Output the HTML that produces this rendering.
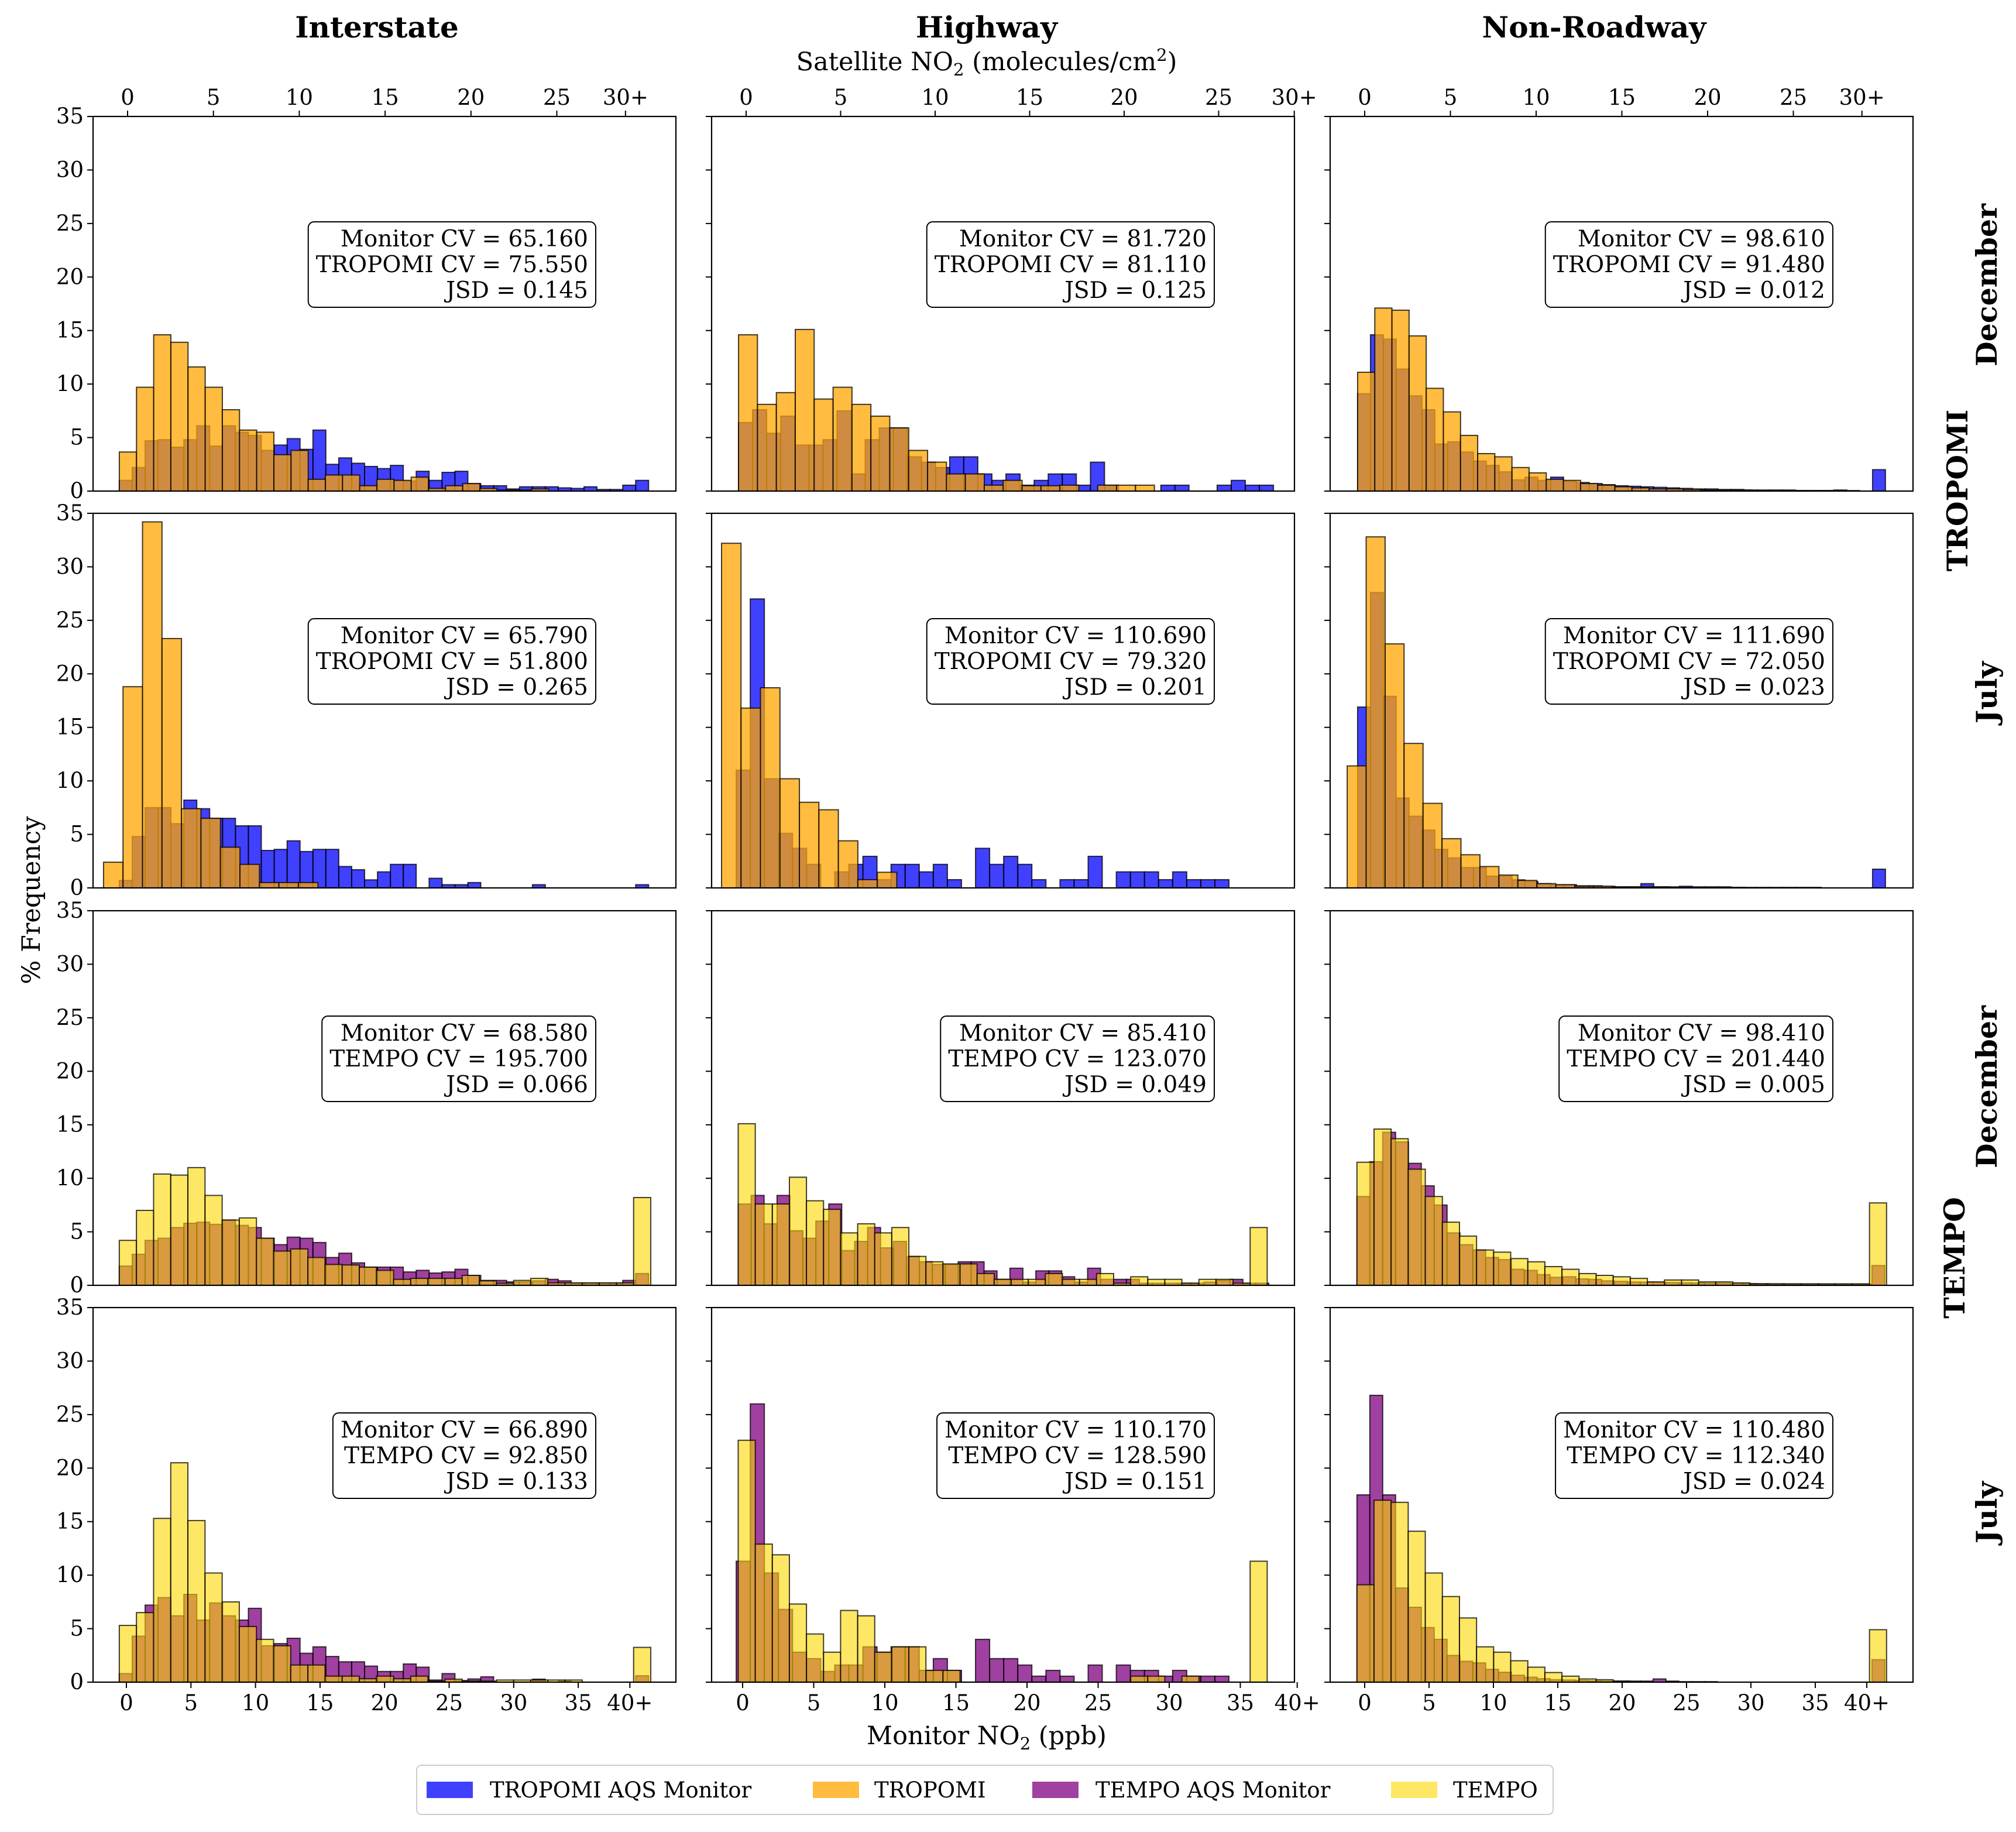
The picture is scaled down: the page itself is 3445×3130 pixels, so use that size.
<!DOCTYPE html>
<html><head><meta charset="utf-8"><style>
html,body{margin:0;padding:0;background:#fff;}
svg{display:block;font-family:"DejaVu Serif","Liberation Serif",serif;}
</style></head><body>
<svg id="fig" width="3445" height="3130" viewBox="0 0 3445 3130" xmlns="http://www.w3.org/2000/svg">
<rect x="0" y="0" width="3445" height="3130" fill="#fff"/>
<g id="panels"></g>
<text x="644" y="64" font-size="50" font-weight="bold" text-anchor="middle">Interstate</text>
<text x="1686" y="64" font-size="50" font-weight="bold" text-anchor="middle">Highway</text>
<text x="2724" y="64" font-size="50" font-weight="bold" text-anchor="middle">Non-Roadway</text>
<text x="1686" y="120" font-size="43" text-anchor="middle">Satellite NO<tspan font-size="29" dy="9">2</tspan><tspan dy="-9"> (molecules/cm</tspan><tspan font-size="29" dy="-16">2</tspan><tspan dy="16">)</tspan></text>
<text x="1686" y="2980" font-size="43" text-anchor="middle">Monitor NO<tspan font-size="29" dy="9">2</tspan><tspan dy="-9"> (ppb)</tspan></text>
<text x="0" y="0" font-size="43" text-anchor="middle" transform="translate(68,1538) rotate(-90)">% Frequency</text>
<text font-size="49" font-weight="bold" text-anchor="middle" transform="translate(3412,487) rotate(-90)">December</text>
<text font-size="49" font-weight="bold" text-anchor="middle" transform="translate(3362,838) rotate(-90)">TROPOMI</text>
<text font-size="49" font-weight="bold" text-anchor="middle" transform="translate(3412,1183) rotate(-90)">July</text>
<text font-size="49" font-weight="bold" text-anchor="middle" transform="translate(3412,1857) rotate(-90)">December</text>
<text font-size="49" font-weight="bold" text-anchor="middle" transform="translate(3357,2149) rotate(-90)">TEMPO</text>
<text font-size="49" font-weight="bold" text-anchor="middle" transform="translate(3412,2584) rotate(-90)">July</text>
<g>
<rect x="712" y="3016" width="1942" height="84" rx="8" fill="#fff" stroke="#ccc" stroke-width="2"/>
<g><rect x="729" y="3044" width="79" height="28" fill="#0000ff" fill-opacity="0.75"/><text x="837" y="3071" font-size="37">TROPOMI AQS Monitor</text></g>
<g><rect x="1389" y="3044" width="79" height="28" fill="#ffa500" fill-opacity="0.75"/><text x="1494" y="3071" font-size="37">TROPOMI</text></g>
<g><rect x="1764" y="3044" width="79" height="28" fill="#800080" fill-opacity="0.75"/><text x="1872" y="3071" font-size="37">TEMPO AQS Monitor</text></g>
<g><rect x="2377" y="3044" width="79" height="28" fill="#ffd700" fill-opacity="0.6"/><text x="2483" y="3071" font-size="37">TEMPO</text></g>
</g>
</svg>
<script>
// ---- data (percent frequency per bin) ----
const r1c1Mon=[1.0,2.2,4.7,4.8,4.1,4.8,6.1,4.2,6.1,5.5,5.2,3.8,4.3,4.9,3.9,5.7,2.5,3.1,2.6,2.3,2.1,2.4,0.95,1.85,1.0,1.75,1.85,0.7,0.5,0.5,0.2,0.4,0.4,0.4,0.3,0.25,0.4,0.15,0.15,0.55,1.0];
const r1c1Sat=[3.65,9.7,14.6,13.9,11.6,9.7,7.6,5.7,5.5,3.4,3.8,1.1,1.5,1.5,0.5,1.1,1.0,1.3,0.25,0.5,0.7,0.25,0.1,0.1,0.2];
const r2c1Mon=[0.7,4.8,7.5,7.5,6.0,8.2,7.4,6.5,6.5,5.8,5.8,3.5,3.6,4.4,3.4,3.6,3.6,2.0,1.7,0.75,1.5,2.2,2.2,0,0.9,0.3,0.3,0.5,0,0,0,0,0.3,0,0,0,0,0,0,0,0.3];
const r2c1Sat=[2.4,18.8,34.2,23.3,7.4,6.5,3.8,2.2,0.5,0.5,0.5];
const r1c2Mon=[6.4,7.6,5.4,7.0,4.3,4.3,4.8,7.5,1.6,4.8,5.9,5.9,3.2,2.7,2.2,3.2,3.2,1.6,1.0,1.6,0.55,1.0,1.6,1.6,0.55,2.7,0.55,0,0,0,0.55,0.55,0,0,0.55,1.0,0.55,0.55];
const r1c2Sat=[14.6,8.1,9.2,15.1,8.6,9.7,8.1,7.0,5.9,3.8,2.7,1.6,1.6,0.55,1.0,0.5,0.5,0.55,0,0.55,0.55,0.55];
const r2c2Mon=[11.0,27.0,10.2,5.1,3.7,2.2,0,1.5,2.2,2.95,0.77,2.2,2.2,1.5,2.2,0.77,0,3.7,2.2,2.95,2.2,0.77,0,0.77,0.77,2.95,0,1.5,1.5,1.5,0.77,1.5,0.77,0.77,0.77];
const r2c2Sat=[32.2,16.8,18.7,10.2,8.0,7.3,4.4,0.77,1.46];
const r1c3Mon=[9.1,14.6,14.2,11.4,8.9,7.6,4.4,4.6,3.65,2.8,2.4,1.8,1.05,1.3,1.0,1.3,0.9,0.8,0.7,0.6,0.5,0.45,0.4,0.35,0.3,0.25,0.2,0.2,0.15,0.15,0.1,0.1,0.1,0.1,0.05,0.05,0.05,0.1,0.05,0,2.0];
const r1c3Sat=[11.1,17.1,16.9,14.5,9.6,7.4,5.2,3.5,3.2,2.2,1.7,1.1,1.0,0.7,0.55,0.4,0.3,0.2,0.2,0.15,0.1,0.1,0.1,0.05,0.05,0.05,0.05,0.05];
const r2c3Mon=[16.9,27.6,17.9,8.4,6.7,5.4,3.6,2.8,1.9,1.9,1.1,1.1,0.75,0.6,0.4,0.3,0.3,0.2,0.2,0.15,0.1,0.1,0.4,0.1,0.1,0.15,0.1,0.1,0.1,0.05,0.05,0.05,0.05,0.05,0.05,0.05,0,0,0,0,1.75];
const r2c3Sat=[11.4,32.8,22.8,13.5,7.9,4.6,3.1,2.0,1.2,0.7,0.4,0.3,0.15,0.15,0.1,0.1,0.1,0.05,0.05,0.05,0.05];
const r3c1Mon=[1.8,2.9,4.2,4.4,5.4,5.8,5.9,5.7,6.1,5.6,5.4,4.4,3.8,4.5,4.4,4.0,2.6,3.0,2.1,1.7,1.7,1.7,1.25,1.4,1.15,1.25,1.5,0.93,0.46,0.46,0.32,0.32,0.42,0.56,0.42,0.2,0.2,0.2,0.2,0.46,1.1];
const r3c1Sat=[4.2,7.0,10.4,10.3,11.0,8.4,6.1,6.3,4.4,3.2,3.4,2.6,1.95,1.9,1.7,1.4,0.56,0.65,0.65,0.65,0.93,0.42,0.19,0.46,0.65,0.23,0.23,0.23,0.23,0.23,8.2];
const r4c1Mon=[0.8,4.3,7.2,7.9,6.2,8.2,5.8,7.4,6.2,5.8,6.9,3.4,3.6,4.1,2.7,3.3,2.4,1.9,1.9,1.5,1.0,1.0,1.7,1.4,0.2,0.8,0.15,0.3,0.5,0,0,0,0.28,0,0.1,0,0,0,0,0,0.6];
const r4c1Sat=[5.3,6.5,15.3,20.5,15.1,10.2,7.5,5.2,4.0,3.4,1.6,1.6,0.56,0.56,0.32,0.56,0.32,0.56,0.1,0.28,0.1,0.1,0.2,0.2,0.2,0.2,0.2,0,0,0,3.25];
const r3c2Mon=[7.6,8.4,5.75,8.4,5.1,4.4,6.0,7.6,3.25,4.1,5.4,3.5,4.1,2.7,2.2,1.95,1.95,2.2,2.2,1.35,0.56,1.6,0.3,1.35,1.35,0.8,0.3,1.6,0.56,0.56,0.56,0.2,0.2,0.2,0.2,0.2,0.3,0.46,0.56,0.2,0.2];
const r3c2Sat=[15.1,7.6,7.6,10.1,7.9,7.1,4.9,5.75,4.9,5.4,2.7,2.2,2.0,2.0,1.1,0.56,0.56,0.56,1.1,0.56,0.56,1.1,0.2,0.8,0.56,0.56,0.2,0.56,0.56,0.2,5.4];
const r4c2Mon=[11.3,26.0,10.2,6.8,2.8,2.2,1.0,1.6,1.6,3.3,2.8,3.3,3.3,1.1,2.2,1.1,0,4.0,2.2,2.2,1.6,0.56,1.1,0.56,0,1.6,0,1.6,1.1,1.1,0.56,1.1,0.56,0.56,0.56];
const r4c2Sat=[22.6,12.9,11.9,7.3,4.5,2.8,6.7,6.2,2.8,3.3,3.3,1.1,1.1,0,0,0,0,0,0,0,0,0,0,0.56,0.56,0,0.56,0,0,0,11.3];
const r3c3Mon=[8.3,11.55,14.3,13.4,11.4,9.3,7.5,4.9,3.8,3.3,2.6,2.4,1.5,1.4,1.0,0.75,0.8,0.6,0.56,0.42,0.37,0.32,0.3,0.28,0.26,0.24,0.22,0.2,0.2,0.18,0.16,0.15,0.14,0.13,0.12,0.12,0.11,0.1,0.1,0.1,1.85];
const r3c3Sat=[11.5,14.6,13.7,10.85,8.3,5.9,4.6,3.3,3.1,2.5,2.2,1.75,1.5,1.1,0.93,0.8,0.65,0.32,0.5,0.5,0.32,0.32,0.23,0.14,0.14,0.14,0.14,0.14,0.14,0.14,7.7];
const r4c3Mon=[17.5,26.8,17.5,8.8,7.0,5.1,4.0,2.5,1.95,1.8,1.2,0.93,0.65,0.46,0.32,0.23,0.2,0.15,0.12,0.1,0.1,0.1,0.1,0.3,0.1,0.05,0.05,0.05,0,0,0,0,0,0,0,0,0,0,0,0,2.1];
const r4c3Sat=[9.1,17.0,16.8,14.1,10.2,8.0,6.0,3.3,2.8,2.0,1.4,0.9,0.56,0.3,0.23,0.1,0,0,0,0,0,0,0,0,0,0,0,0,0,0,4.9];
// bin start and width (data units) for each panel: [monLo, monW, satLo, satW]
const binSpecs=[[-0.55,1.0,-0.48,1.0],[-0.29,0.99,-0.4,1.0],[-0.55,1.0,-0.41,1.0],
[-0.55,1.0,-1.4,1.135],[-0.45,0.99,-1.3,1.03],[-0.55,1.0,-1.02,1.106],
[-0.55,1.0,-0.55,1.328],[-0.31,0.91,-0.31,1.2],[-0.6,1.0,-0.6,1.327],
[-0.55,1.0,-0.55,1.328],[-0.45,0.99,-0.31,1.2],[-0.6,1.0,-0.6,1.327]];
const stats=[["Monitor CV = 65.160","TROPOMI CV = 75.550","JSD = 0.145"],["Monitor CV = 81.720","TROPOMI CV = 81.110","JSD = 0.125"],["Monitor CV = 98.610","TROPOMI CV = 91.480","JSD = 0.012"],
["Monitor CV = 65.790","TROPOMI CV = 51.800","JSD = 0.265"],["Monitor CV = 110.690","TROPOMI CV = 79.320","JSD = 0.201"],["Monitor CV = 111.690","TROPOMI CV = 72.050","JSD = 0.023"],
["Monitor CV = 68.580","TEMPO CV = 195.700","JSD = 0.066"],["Monitor CV = 85.410","TEMPO CV = 123.070","JSD = 0.049"],["Monitor CV = 98.410","TEMPO CV = 201.440","JSD = 0.005"],
["Monitor CV = 66.890","TEMPO CV = 92.850","JSD = 0.133"],["Monitor CV = 110.170","TEMPO CV = 128.590","JSD = 0.151"],["Monitor CV = 110.480","TEMPO CV = 112.340","JSD = 0.024"]];
const yTicks=[0,5,10,15,20,25,30,35];
const topTickVals=[0,5,10,15,20,25,29];
const topTickLabels=["0","5","10","15","20","25","30+"];
const botTickVals=[0,5,10,15,20,25,30,35,39];
const botTickLabels=["0","5","10","15","20","25","30","35","40+"];
const monSeries=[r1c1Mon,r1c2Mon,r1c3Mon,r2c1Mon,r2c2Mon,r2c3Mon,r3c1Mon,r3c2Mon,r3c3Mon,r4c1Mon,r4c2Mon,r4c3Mon];
const satSeries=[r1c1Sat,r1c2Sat,r1c3Sat,r2c1Sat,r2c2Sat,r2c3Sat,r3c1Sat,r3c2Sat,r3c3Sat,r4c1Sat,r4c2Sat,r4c3Sat];

// ---- layout ----
const NS="http://www.w3.org/2000/svg";
const colL=[159,1216,2273], colW=996;
const rowT=[199,877,1556,2234], rowH=640;
const monAx=[[216,22.06],[1269,24.3],[2332,22.0]];
const satAx=[[218,29.34],[1275,32.3],[2332,29.3]];
const yMax=35;
function yPx(r,v){return rowT[r]+rowH-v/yMax*rowH;}
function monX(c,v){return monAx[c][0]+v*monAx[c][1];}
function satX(c,v){return satAx[c][0]+v*satAx[c][1];}
function mk(tag,attrs,parent){const e=document.createElementNS(NS,tag);for(const k in attrs)e.setAttribute(k,attrs[k]);parent.appendChild(e);return e;}
const root=document.getElementById('panels');
const colNames=["interstate","highway","non-roadway"];
const rowNames=["tropomi-december","tropomi-july","tempo-december","tempo-july"];

for(let r=0;r<4;r++)for(let c=0;c<3;c++){
  const p=r*3+c, tempo=r>=2;
  const g=mk('g',{},root);
  
  
  const spec=binSpecs[p];
  const monColor=tempo?'#800080':'#0000ff', satColor=tempo?'#ffd700':'#ffa500';
  const satOp=tempo?0.6:0.75;
  const base=yPx(r,0);
  monSeries[p].forEach((h,i)=>{
    if(h<=0)return;
    const x0=monX(c,spec[0]+i*spec[1]), x1=monX(c,spec[0]+(i+1)*spec[1]);
    const b=mk('rect',{x:x0,y:yPx(r,h),width:x1-x0,height:base-yPx(r,h),fill:monColor,'fill-opacity':0.75,stroke:'#000','stroke-opacity':0.75,'stroke-width':2},g);
    
    
  });
  satSeries[p].forEach((h,i)=>{
    if(h<=0)return;
    const fx=tempo?monX:satX;
    const x0=fx(c,spec[2]+i*spec[3]), x1=fx(c,spec[2]+(i+1)*spec[3]);
    const b=mk('rect',{x:x0,y:yPx(r,h),width:x1-x0,height:base-yPx(r,h),fill:satColor,'fill-opacity':satOp,stroke:'#000','stroke-opacity':0.75,'stroke-width':2},g);
    
    
  });
  const fr=mk('rect',{x:colL[c],y:rowT[r],width:colW,height:rowH,fill:'none',stroke:'#000','stroke-width':2.2},g);
  
  
  yTicks.forEach(v=>{
    const y=yPx(r,v);
    mk('line',{x1:colL[c]-10,x2:colL[c],y1:y,y2:y,stroke:'#000','stroke-width':2},g);
    if(c===0){
      const t=mk('text',{x:colL[c]-16,y:y+12,'font-size':37,'text-anchor':'end'},g);
      t.textContent=String(v);
      
      
    }
  });
  if(r===0){
    topTickVals.forEach((v,i)=>{
      const x=satX(c,v);
      mk('line',{x1:x,x2:x,y1:rowT[0]-10,y2:rowT[0],stroke:'#000','stroke-width':2},g);
      const t=mk('text',{x:x,y:rowT[0]-20,'font-size':37,'text-anchor':'middle'},g);
      t.textContent=topTickLabels[i];
      
      
    });
  }
  if(r===3){
    botTickVals.forEach((v,i)=>{
      const x=monX(c,v);
      mk('line',{x1:x,x2:x,y1:base,y2:base+10,stroke:'#000','stroke-width':2},g);
      const t=mk('text',{x:x,y:base+48,'font-size':37,'text-anchor':'middle'},g);
      t.textContent=botTickLabels[i];
      
      
    });
  }
  const right=colL[c]+colW-137, top=rowT[r]+180;
  const bx=mk('g',{},g);
  
  
  const lines=stats[p];
  const txts=lines.map((s,i)=>{const t=mk('text',{x:right-13,y:top+42+i*44,'font-size':39,'text-anchor':'end'},bx);t.textContent=s;return t;});
  let w=0;txts.forEach(t=>{try{w=Math.max(w,t.getComputedTextLength());}catch(e){w=470;}});
  if(!w)w=470;
  const br=mk('rect',{x:right-w-26,y:top,width:w+26,height:146,rx:10,fill:'#fff',stroke:'#000','stroke-width':2},bx);
  bx.insertBefore(br,bx.firstChild);
}
</script>
</body></html>
